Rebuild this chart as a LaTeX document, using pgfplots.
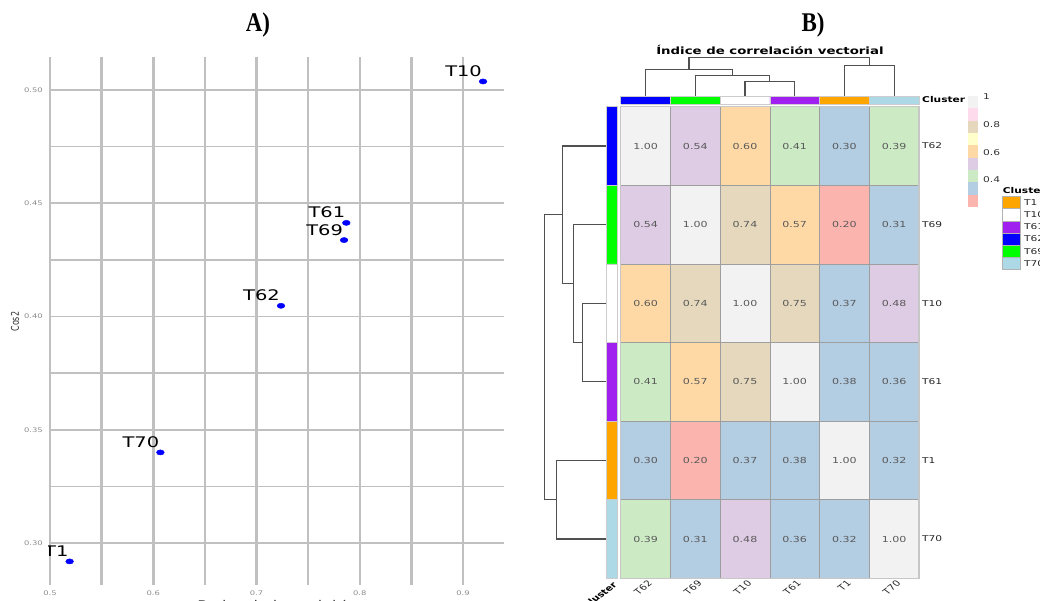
\documentclass[border=0pt]{standalone}
\usepackage{pgfplots}
\pgfplotsset{compat=1.18}
\usepackage{pgfplotstable}
\usepackage{graphicx}
\usepackage{fontspec}
\setmainfont{DejaVu Sans}
\newfontfamily\serifb{Liberation Serif}

\definecolor{pRed}{RGB}{251,180,174}
\definecolor{pBlue}{RGB}{179,205,227}
\definecolor{pGreen}{RGB}{204,235,197}
\definecolor{pPurple}{RGB}{222,203,228}
\definecolor{pOrange}{RGB}{254,217,166}
\definecolor{pYellow}{RGB}{255,255,204}
\definecolor{pTan}{RGB}{229,216,189}
\definecolor{pPink}{RGB}{253,218,236}
\definecolor{pGray}{RGB}{242,242,242}
\definecolor{clBlue}{RGB}{0,0,255}
\definecolor{clGreen}{RGB}{0,255,0}
\definecolor{clPurple}{RGB}{160,32,240}
\definecolor{clOrange}{RGB}{255,165,0}
\definecolor{clLight}{RGB}{173,216,230}
\definecolor{gridgray}{RGB}{192,192,192}
\definecolor{ticgray}{RGB}{140,140,140}
\definecolor{dendro}{RGB}{80,80,80}
\definecolor{cellgray}{RGB}{90,90,90}

\newcommand\hs[1]{\scalebox{1.33}[1]{#1}}
\newcommand\rl[1]{\scalebox{1.33}[1]{\rotatebox{45}{#1}}}
\newcommand\fs[1]{\fontsize{#1}{#1}\selectfont}

\pgfplotstableread{
x y lab
0.9194 0.5037 T10
0.7870 0.4413 T61
0.7848 0.4337 T69
0.7237 0.4047 T62
0.6069 0.3400 T70
0.5190 0.2919 T1
}\cosdata

\pgfplotstableread{
x y v
0 0 0.39
1 0 0.31
2 0 0.48
3 0 0.36
4 0 0.32
5 0 1.00
0 1 0.30
1 1 0.20
2 1 0.37
3 1 0.377
4 1 1.00
5 1 0.32
0 2 0.41
1 2 0.57
2 2 0.75
3 2 1.00
4 2 0.377
5 2 0.36
0 3 0.60
1 3 0.74
2 3 1.00
3 3 0.75
4 3 0.37
5 3 0.48
0 4 0.54
1 4 1.00
2 4 0.74
3 4 0.57
4 4 0.20
5 4 0.31
0 5 1.00
1 5 0.54
2 5 0.60
3 5 0.41
4 5 0.30
5 5 0.39
}\heat

\pgfplotsset{
  panelA/.style={at={(50pt,16pt)}, anchor=south west, scale only axis,
    width=454pt, height=528pt,
    xmin=0.5, xmax=0.9397, ymin=0.2815, ymax=0.5145,
    axis line style={draw=none},
    major tick length=0pt, minor tick length=0pt},
}

\begin{document}
\begin{tikzpicture}[x=1pt,y=1pt]
\useasboundingbox (0,0) rectangle (1040,601);
\clip (0,0) rectangle (1040,601);

% ---------------- Panel A ----------------
\node at (258,576) {\serifb\bfseries\fs{27}\scalebox{0.85}[1]{A)}};
% vertical grid lines and x tick labels
\begin{axis}[panelA,
  xtick={0.5,0.55,0.6,0.65,0.7,0.75,0.8,0.85,0.9},
  xticklabels={\hs{0.5},,\hs{0.6},,\hs{0.7},,\hs{0.8},,\hs{0.9}},
  ytick=\empty,
  xmajorgrids,
  major grid style={color=gridgray, line width=2.5pt},
  tick label style={font=\fs{6.3}, text=ticgray},
  xticklabel style={anchor=center, yshift=-8pt},
]
\addplot[draw=none] coordinates {(0.6,0.4)};
\end{axis}
% horizontal grid lines, y tick labels and the points
\begin{axis}[panelA,
  xtick=\empty,
  ytick={0.30,0.325,0.35,0.375,0.40,0.425,0.45,0.475,0.50},
  yticklabels={\hs{0.30},,\hs{0.35},,\hs{0.40},,\hs{0.45},,\hs{0.50}},
  ymajorgrids,
  major grid style={color=gridgray, line width=1.7pt},
  tick label style={font=\fs{6.3}, text=ticgray},
  yticklabel style={anchor=east, inner sep=0pt, xshift=-7pt},
]
\addplot[only marks, mark=*, mark size=2.6pt, color=blue, mark options={xscale=1.5}]
  table[x=x, y=y] {\cosdata};
\end{axis}
\begin{scope}
\clip (48,0) rectangle (530,601);
\begin{axis}[panelA, hide axis, clip=false]
\addplot[draw=none, point meta=explicit symbolic,
  nodes near coords={\hs{\pgfplotspointmeta}},
  nodes near coords align={anchor=base east},
  every node near coord/.append style={font=\fs{14.6}, text=black, inner sep=0pt, xshift=-1pt, yshift=5pt}]
  table[x=x, y=y, meta=lab] {\cosdata};
\end{axis}
\end{scope}
\node at (15,279.3) {\hs{\rotatebox{90}{\fs{8}\color{black!80}Cos2}}};
\node[anchor=north, inner sep=0pt] at (277,0.5) {\fs{12}\color{black!75}\hs{Poder de la variable}};

% ---------------- Panel B ----------------
\node at (813,576) {\serifb\bfseries\fs{27}\scalebox{0.85}[1]{B)}};
\node at (769.9,551) {\bfseries\fs{10}\hs{Índice de correlación vectorial}};

% heatmap
\begin{axis}[at={(620.7pt,22.7pt)}, anchor=south west, scale only axis,
  width=298.3pt, height=471.6pt,
  xmin=-0.5, xmax=5.5, ymin=-0.5, ymax=5.5,
  xtick={0,1,2,3,4,5},
  xticklabels={\rl{T62},\rl{T69},\rl{T10},\rl{T61},\rl{T1},\rl{T70}},
  ytick={0,1,2,3,4,5},
  yticklabels={\hs{T70},\hs{T1},\hs{T61},\hs{T10},\hs{T69},\hs{T62}},
  yticklabel pos=right,
  minor xtick={-0.5,0.5,1.5,2.5,3.5,4.5,5.5},
  minor ytick={-0.5,0.5,1.5,2.5,3.5,4.5,5.5},
  xminorgrids, yminorgrids,
  minor grid style={color=black!38, line width=0.7pt},
  major tick length=0pt, minor tick length=0pt,
  axis on top,
  axis line style={color=black!22, line width=1.3pt},
  colormap={pastel}{rgb255=(251,180,174) rgb255=(179,205,227) rgb255=(204,235,197)
    rgb255=(222,203,228) rgb255=(254,217,166) rgb255=(255,255,204) rgb255=(229,216,189)
    rgb255=(253,218,236) rgb255=(242,242,242)},
  colormap access=piecewise constant,
  point meta min=0.2, point meta max=1.0,
  xticklabel style={anchor=north east, inner sep=0pt, xshift=7.6pt, yshift=-1.7pt, font=\fs{8}, text=black!85},
  yticklabel style={anchor=west, inner sep=0pt, xshift=3pt, font=\fs{8}, text=black!85},
]
\addplot[matrix plot*, mesh/cols=6, point meta=explicit] table[x=x, y=y, meta=v] {\heat};
\addplot[draw=none, point meta=explicit,
  nodes near coords={\hs{\pgfmathprintnumber{\pgfplotspointmeta}}},
  nodes near coords align={anchor=center},
  every node near coord/.append style={font=\fs{8.3}, text=cellgray, inner sep=0pt,
    /pgf/number format/.cd, fixed, fixed zerofill, precision=2, assume math mode=true}]
  table[x=x, y=y, meta=v] {\heat};
\end{axis}

% top dendrogram
\begin{axis}[at={(620.7pt,505pt)}, anchor=south west, scale only axis,
  width=298.3pt, height=38.3pt, hide axis, clip=false,
  xmin=-0.5, xmax=5.5, ymin=0, ymax=0.617]
\addplot[dendro, line width=1.2pt] coordinates {(2,0) (2,0.237) (3,0.237) (3,0)};
\addplot[dendro, line width=1.2pt] coordinates {(1,0) (1,0.327) (2.5,0.327) (2.5,0.237)};
\addplot[dendro, line width=1.2pt] coordinates {(0,0) (0,0.433) (1.75,0.433) (1.75,0.327)};
\addplot[dendro, line width=1.2pt] coordinates {(4,0) (4,0.493) (5,0.493) (5,0)};
\addplot[dendro, line width=1.2pt] coordinates {(0.875,0.433) (0.875,0.617) (4.5,0.617) (4.5,0.493)};
\end{axis}

% left dendrogram
\begin{axis}[at={(544.3pt,22.7pt)}, anchor=south west, scale only axis,
  width=61.7pt, height=471.6pt, hide axis, clip=false,
  xmin=-0.617, xmax=0, ymin=-0.5, ymax=5.5]
\addplot[dendro, line width=1.2pt] coordinates {(0,3) (-0.237,3) (-0.237,2) (0,2)};
\addplot[dendro, line width=1.2pt] coordinates {(0,4) (-0.327,4) (-0.327,2.5) (-0.237,2.5)};
\addplot[dendro, line width=1.2pt] coordinates {(0,5) (-0.433,5) (-0.433,3.25) (-0.327,3.25)};
\addplot[dendro, line width=1.2pt] coordinates {(0,1) (-0.493,1) (-0.493,0) (0,0)};
\addplot[dendro, line width=1.2pt] coordinates {(-0.433,4.125) (-0.617,4.125) (-0.617,0.5) (-0.493,0.5)};
\end{axis}

% top annotation bar
\begin{axis}[at={(620.7pt,497pt)}, anchor=south west, scale only axis,
  width=298.3pt, height=7.3pt, hide axis, clip=false,
  xmin=-0.5, xmax=5.5, ymin=0, ymax=1]
\addplot[fill=clBlue, draw=black!20, line width=0.6pt] coordinates {(-0.5,0) (0.5,0) (0.5,1) (-0.5,1) (-0.5,0)};
\addplot[fill=clGreen, draw=black!20, line width=0.6pt] coordinates {(0.5,0) (1.5,0) (1.5,1) (0.5,1) (0.5,0)};
\addplot[fill=white, draw=black!20, line width=0.6pt] coordinates {(1.5,0) (2.5,0) (2.5,1) (1.5,1) (1.5,0)};
\addplot[fill=clPurple, draw=black!20, line width=0.6pt] coordinates {(2.5,0) (3.5,0) (3.5,1) (2.5,1) (2.5,0)};
\addplot[fill=clOrange, draw=black!20, line width=0.6pt] coordinates {(3.5,0) (4.5,0) (4.5,1) (3.5,1) (3.5,0)};
\addplot[fill=clLight, draw=black!20, line width=0.6pt] coordinates {(4.5,0) (5.5,0) (5.5,1) (4.5,1) (4.5,0)};
\end{axis}
\node[anchor=west, inner sep=0pt] at (922,501) {\bfseries\fs{8}\hs{Cluster}};

% left annotation bar
\begin{axis}[at={(606pt,22.7pt)}, anchor=south west, scale only axis,
  width=11.3pt, height=471.6pt, hide axis, clip=false,
  xmin=0, xmax=1, ymin=-0.5, ymax=5.5]
\addplot[fill=clBlue, draw=black!20, line width=0.6pt] coordinates {(0,4.5) (1,4.5) (1,5.5) (0,5.5) (0,4.5)};
\addplot[fill=clGreen, draw=black!20, line width=0.6pt] coordinates {(0,3.5) (1,3.5) (1,4.5) (0,4.5) (0,3.5)};
\addplot[fill=white, draw=black!20, line width=0.6pt] coordinates {(0,2.5) (1,2.5) (1,3.5) (0,3.5) (0,2.5)};
\addplot[fill=clPurple, draw=black!20, line width=0.6pt] coordinates {(0,1.5) (1,1.5) (1,2.5) (0,2.5) (0,1.5)};
\addplot[fill=clOrange, draw=black!20, line width=0.6pt] coordinates {(0,0.5) (1,0.5) (1,1.5) (0,1.5) (0,0.5)};
\addplot[fill=clLight, draw=black!20, line width=0.6pt] coordinates {(0,-0.5) (1,-0.5) (1,0.5) (0,0.5) (0,-0.5)};
\end{axis}
\node[anchor=north east, inner sep=0pt] at (618,19.3) {\rl{\bfseries\fs{8}Cluster}};

% colour scale legend
\foreach \c [count=\i from 0] in {pRed,pBlue,pGreen,pPurple,pOrange,pYellow,pTan,pPink,pGray}{
  \fill[\c] (967.7,394+\i*12.33) rectangle (978.3,394+\i*12.33+12.33);
}
\node[anchor=west, inner sep=0pt] at (983,504.3) {\fs{8}\color{black!80}\hs{1}};
\node[anchor=west, inner sep=0pt] at (983,476.7) {\fs{8}\color{black!80}\hs{0.8}};
\node[anchor=west, inner sep=0pt] at (983,448.7) {\fs{8}\color{black!80}\hs{0.6}};
\node[anchor=west, inner sep=0pt] at (983,421) {\fs{8}\color{black!80}\hs{0.4}};

% cluster legend
\node[anchor=west, inner sep=0pt] at (1002.7,410) {\bfseries\fs{8}\hs{Cluster}};
\foreach \c/\t [count=\i from 0] in {clOrange/T1,white/T10,clPurple/T61,clBlue/T62,clGreen/T69,clLight/T70}{
  \filldraw[fill=\c, draw=black!30, line width=0.6pt] (1002.7,404.3-\i*12.1) rectangle (1020.7,404.3-\i*12.1-12.1);
  \node[anchor=west, inner sep=0pt] at (1024,404.3-\i*12.1-6.05) {\fs{8}\color{black!85}\hs{\t}};
}
\end{tikzpicture}
\end{document}
